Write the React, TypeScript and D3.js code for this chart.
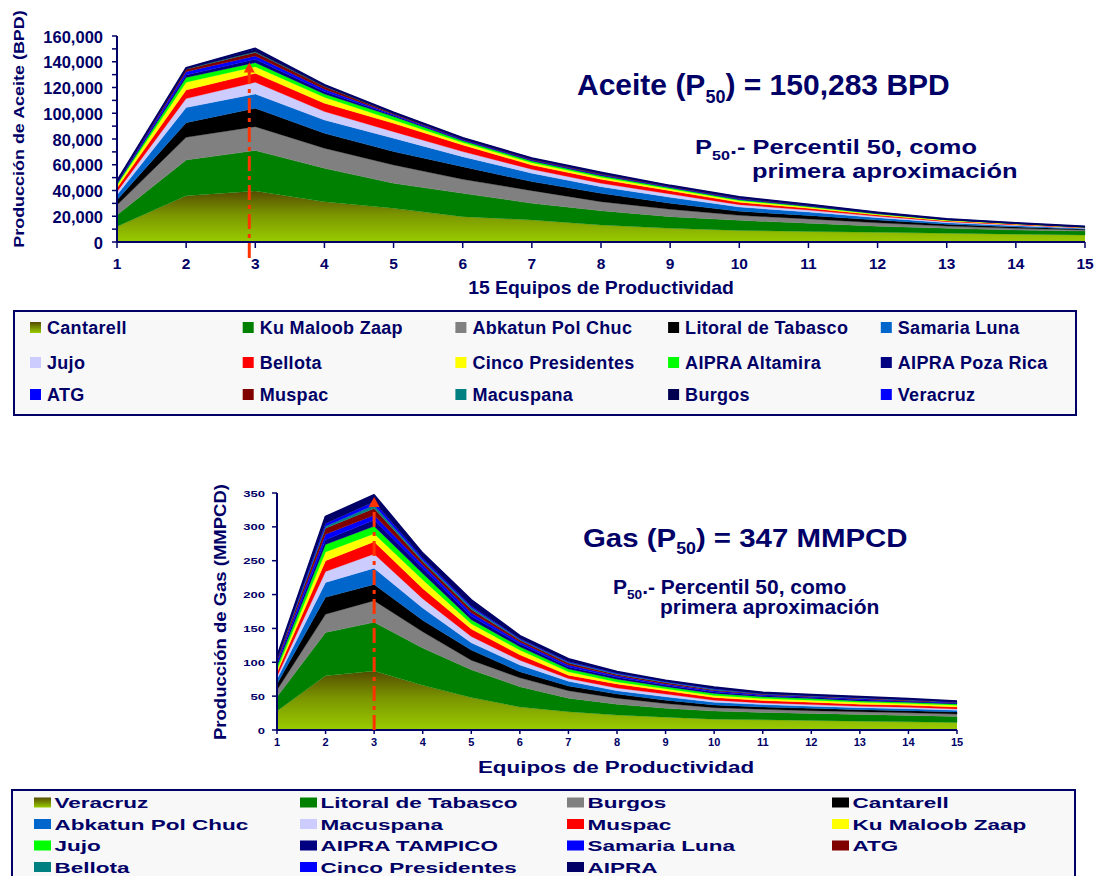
import React from "react";
import * as d3 from "d3";

// ---------- shared categories ----------
const equipos = [1, 2, 3, 4, 5, 6, 7, 8, 9, 10, 11, 12, 13, 14, 15];

// ---------- Oil (BPD) by asset ----------
const oilCantarell = [12000, 36000, 39600, 31300, 26200, 19700, 17100, 13200, 10600, 9000, 8200, 7500, 6800, 6100, 5500];
const oilKuMaloobZaap = [9000, 27700, 31400, 25900, 19400, 18100, 13000, 11100, 9100, 7800, 6400, 4800, 3800, 3200, 3000];
const oilAbkatun = [7700, 17600, 18600, 15600, 14200, 10900, 9800, 7000, 5700, 3900, 3300, 2600, 1800, 1300, 800];
const oilLitoral = [3900, 11400, 14300, 11600, 10400, 9800, 7000, 6500, 4700, 3100, 2700, 2100, 1400, 1100, 700];
const oilSamaria = [3900, 11700, 11100, 10400, 10400, 7800, 6500, 5200, 4600, 3400, 2700, 1900, 1200, 900, 500];
const oilJujo = [2500, 7000, 9100, 6500, 5100, 3900, 3100, 2600, 2600, 1800, 1500, 1100, 800, 600, 400];
const oilBellota = [3000, 6700, 6900, 6500, 6500, 5200, 3300, 3100, 2600, 1800, 1400, 900, 600, 500, 300];
const oilCinco = [2000, 6000, 5200, 4600, 2600, 1800, 1800, 1600, 1300, 1300, 900, 600, 500, 400, 200];
const oilAltamira = [1000, 3600, 3100, 2600, 2600, 1500, 1300, 1200, 1000, 800, 600, 500, 300, 200, 200];
const oilPozaRica = [800, 2100, 2700, 1800, 800, 600, 500, 500, 400, 400, 300, 200, 200, 100, 100];
const oilATG = [600, 2500, 2500, 1900, 800, 500, 500, 500, 400, 400, 300, 200, 100, 100, 100];
const oilMuspac = [400, 1900, 2600, 2000, 800, 500, 500, 500, 400, 400, 300, 200, 100, 100, 50];
const oilMacuspana = [200, 300, 700, 300, 200, 100, 100, 100, 100, 100, 100, 100, 100, 50, 50];
const oilBurgos = [200, 400, 1800, 700, 400, 300, 400, 600, 200, 600, 300, 200, 100, 100, 50];
const oilVeracruz = [200, 300, 683, 300, 200, 100, 100, 200, 100, 200, 100, 100, 100, 50, 50];

const oilNames = [
  "Cantarell", "Ku Maloob Zaap", "Abkatun Pol Chuc", "Litoral de Tabasco", "Samaria Luna",
  "Jujo", "Bellota", "Cinco Presidentes", "AIPRA Altamira", "AIPRA Poza Rica",
  "ATG", "Muspac", "Macuspana", "Burgos", "Veracruz",
];
const oilValues = [
  oilCantarell, oilKuMaloobZaap, oilAbkatun, oilLitoral, oilSamaria,
  oilJujo, oilBellota, oilCinco, oilAltamira, oilPozaRica,
  oilATG, oilMuspac, oilMacuspana, oilBurgos, oilVeracruz,
];
const oilColors = [
  "url(#gradOil)", "#008000", "#808080", "#000000", "#0066CC",
  "#CCCCFF", "#FF0000", "#FFFF00", "#00FF00", "#000080",
  "#0000FF", "#800000", "#008080", "#000050", "#0000FF",
];
const oilTicks = [0, 20000, 40000, 60000, 80000, 100000, 120000, 140000, 160000];
const oilMinorTicks = [10000, 30000, 50000, 70000, 90000, 110000, 130000, 150000];

// ---------- Gas (MMPCD) by asset ----------
const gasVeracruz = [28, 80, 87, 66, 48, 34, 27, 22, 19, 16, 15, 14, 13, 12, 11];
const gasLitoral = [21, 64, 72, 55, 41, 30, 20, 16, 13, 12, 11, 10.5, 10, 9.5, 9];
const gasBurgos = [10, 27, 32, 24, 14, 13, 11, 9, 7, 5, 4.5, 4, 4, 4, 3.5];
const gasCantarell = [9, 25, 24, 17, 15, 9, 7, 6, 5, 4, 3.5, 3.5, 3, 3, 3];
const gasAbkatun = [7, 22, 24, 18, 11, 10, 7, 5, 5, 4, 3.5, 3, 3, 3, 2.5];
const gasMacuspana = [4, 16, 21, 14, 9, 7, 4, 4, 4, 3, 2.5, 2.5, 2, 2, 2];
const gasMuspac = [6, 16, 18, 15, 11, 8, 5, 6, 5, 4, 3.5, 3.5, 3, 3, 3];
const gasKuMaloob = [4, 13, 12, 13, 8, 7, 5, 3, 3, 3, 3, 3, 3, 2.5, 2.5];
const gasJujo = [5, 11, 11, 9, 6, 5, 4, 4, 3, 3, 2.5, 2.5, 2, 2, 2];
const gasAipraTampico = [4, 7, 9, 8, 5, 4, 3, 3, 2, 2, 1.5, 1.5, 1.5, 1, 1];
const gasSamaria = [4, 8, 7, 5, 5, 3, 3, 2, 2, 2, 1.5, 1, 1.5, 1, 1];
const gasATG = [3, 9, 10, 5, 5, 3, 3, 2, 2, 1, 1, 1, 1, 1, 0.5];
const gasBellota = [1, 3, 5, 2, 3, 1, 1, 1, 1, 1, 0.5, 0.5, 0.5, 0.5, 0.5];
const gasCinco = [1, 4, 5, 3, 2, 1, 1, 1, 1, 1, 0.5, 0.5, 0.5, 0.5, 0.5];
const gasAipra = [1, 10, 10, 7, 9, 4, 4, 2, 1, 2, 1.5, 1, 1, 1, 0.5];

const gasNames = [
  "Veracruz", "Litoral de Tabasco", "Burgos", "Cantarell",
  "Abkatun Pol Chuc", "Macuspana", "Muspac", "Ku Maloob Zaap",
  "Jujo", "AIPRA TAMPICO", "Samaria Luna", "ATG",
  "Bellota", "Cinco Presidentes", "AIPRA",
];
const gasValues = [
  gasVeracruz, gasLitoral, gasBurgos, gasCantarell,
  gasAbkatun, gasMacuspana, gasMuspac, gasKuMaloob,
  gasJujo, gasAipraTampico, gasSamaria, gasATG,
  gasBellota, gasCinco, gasAipra,
];
const gasColors = [
  "url(#gradGas)", "#008000", "#808080", "#000000",
  "#0066CC", "#CCCCFF", "#FF0000", "#FFFF00",
  "#00FF00", "#000080", "#0000FF", "#800000",
  "#008080", "#0000FF", "#000066",
];
const gasTicks = [0, 50, 100, 150, 200, 250, 300, 350];

// ---------- style ----------
const FONT = "'Liberation Sans', Arial, Helvetica, sans-serif";
const NAVY = "#000066";
const ARROW = "#FF3300";

type TxtProps = {
  x: number; y: number; size: number; anchor?: string; sx?: number; ls?: number;
  rotate?: number; children?: React.ReactNode; fill?: string;
};
const Txt = ({ x, y, size, anchor = "start", sx = 1, ls = 0, rotate = 0, children, fill = NAVY }: TxtProps) => (
  <text
    transform={`translate(${x},${y})${rotate ? ` rotate(${rotate})` : ""} scale(${sx},1)`}
    fontSize={size}
    fontFamily={FONT}
    fontWeight="bold"
    fill={fill}
    textAnchor={anchor as any}
    letterSpacing={ls}
  >
    {children}
  </text>
);

function buildLayers(names: string[], values: number[][]) {
  const table = equipos.map((e, i) => {
    const row: any = { equipo: e };
    names.forEach((n, k) => (row[n] = values[k][i]));
    return row;
  });
  const stack = d3.stack<any>().keys(names);
  return stack(table);
}

function Areas({ layers, colors, x, y }: { layers: any[]; colors: string[]; x: any; y: any }) {
  const area = d3
    .area<any>()
    .x((d: any) => x(d.data.equipo))
    .y0((d: any) => y(d[0]))
    .y1((d: any) => y(d[1]));
  const top = layers[layers.length - 1];
  const line = d3
    .line<any>()
    .x((d: any) => x(d.data.equipo))
    .y((d: any) => y(d[1]));
  return (
    <g>
      {layers.map((l, i) => (
        <path key={i} d={area(l) || ""} fill={colors[i]} stroke={colors[i].startsWith("url") ? "none" : colors[i]} strokeWidth={0.3} />
      ))}
      <path d={line(top) || ""} fill="none" stroke={NAVY} strokeWidth={2} strokeLinejoin="round" />
    </g>
  );
}

function Arrow({ x, yBottom, yTip, width }: { x: number; yBottom: number; yTip: number; width: number }) {
  return (
    <g>
      <line x1={x} x2={x} y1={yBottom} y2={yTip + 8} stroke={ARROW} strokeWidth={width} strokeDasharray="15,5,4,5" />
      <path d={`M${x},${yTip} L${x - 5.5},${yTip + 10} L${x + 5.5},${yTip + 10} Z`} fill={ARROW} />
    </g>
  );
}

function OilChart() {
  const x = d3.scaleLinear().domain([1, 15]).range([117, 1085]);
  const y = d3.scaleLinear().domain([0, 160000]).range([242, 36]);
  const layers = buildLayers(oilNames, oilValues);
  const fmt = d3.format(",");
  return (
    <g>
      <defs>
        <linearGradient id="gradOil" gradientUnits="userSpaceOnUse" x1={0} x2={0} y1={y(d3.max(oilCantarell) as number)} y2={y(0)}>
          <stop offset="0" stopColor="#544c00" />
          <stop offset="0.45" stopColor="#7a9400" />
          <stop offset="1" stopColor="#99CC00" />
        </linearGradient>
      </defs>
      <Areas layers={layers} colors={oilColors} x={x} y={y} />
      {/* axes */}
      <line x1={x(1)} x2={x(1)} y1={y(160000)} y2={y(0)} stroke={NAVY} strokeWidth={2} />
      <line x1={x(1)} x2={x(15)} y1={y(0)} y2={y(0)} stroke={NAVY} strokeWidth={2} />
      {oilTicks.concat(oilMinorTicks).map((t) => (
        <line key={"yt" + t} x1={x(1) - 5} x2={x(1)} y1={y(t)} y2={y(t)} stroke={NAVY} strokeWidth={1.5} />
      ))}
      {oilTicks.map((t) => (
        <Txt key={"yl" + t} x={x(1) - 14} y={y(t) + 6.5} size={16.5} anchor="end">{fmt(t)}</Txt>
      ))}
      {equipos.map((e) => (
        <g key={"x" + e}>
          <line x1={x(e)} x2={x(e)} y1={y(0)} y2={y(0) + 6} stroke={NAVY} strokeWidth={1.5} />
          <Txt x={x(e)} y={y(0) + 27} size={15.5} anchor="middle">{e}</Txt>
        </g>
      ))}
      <Txt x={601} y={294} size={17.6} anchor="middle" sx={1.1}>15 Equipos de Productividad</Txt>
      <Txt x={23.5} y={129} size={13.8} anchor="middle" rotate={-90} sx={1.3}>Producción de Aceite (BPD)</Txt>
      <Arrow x={x(3) - 6} yBottom={y(0) + 16} yTip={y(139500)} width={3} />
      {/* annotations */}
      <text x={577} y={95} fontSize={30} fontFamily={FONT} fontWeight="bold" fill={NAVY}>
        Aceite (P<tspan fontSize={18} dy={8}>50</tspan><tspan dy={-8}>) = 150,283 BPD</tspan>
      </text>
      <text transform="translate(695,154) scale(1.24,1)" fontSize={20.5} fontFamily={FONT} fontWeight="bold" fill={NAVY}>
        P<tspan fontSize={13} dy={6}>50</tspan><tspan dy={-6}>.- Percentil 50, como</tspan>
      </text>
      <Txt x={752} y={178} size={20.5} sx={1.24}>primera aproximación</Txt>
    </g>
  );
}

function OilLegend() {
  const cols = 5;
  return (
    <g>
      <defs>
        <linearGradient id="gradOilSw" x1={0} x2={0} y1={0} y2={1}>
          <stop offset="0" stopColor="#544c00" />
          <stop offset="1" stopColor="#99CC00" />
        </linearGradient>
      </defs>
      <rect x={14} y={311} width={1062} height={104} fill="#F8F8F8" stroke={NAVY} strokeWidth={2} />
      {oilNames.map((n, i) => {
        const c = i % cols;
        const r = Math.floor(i / cols);
        const sx = 30 + c * 212.7;
        const by = [334, 369, 401][r];
        const fill = oilColors[i].startsWith("url") ? "url(#gradOilSw)" : oilColors[i];
        return (
          <g key={n}>
            <rect x={sx} y={by - 12} width={11} height={11} fill={fill} />
            <Txt x={sx + 17} y={by} size={18} ls={0.3}>{n}</Txt>
          </g>
        );
      })}
    </g>
  );
}

function GasChart() {
  const x = d3.scaleLinear().domain([1, 15]).range([277, 957]);
  const y = d3.scaleLinear().domain([0, 350]).range([730, 493]);
  const layers = buildLayers(gasNames, gasValues);
  return (
    <g>
      <defs>
        <linearGradient id="gradGas" gradientUnits="userSpaceOnUse" x1={0} x2={0} y1={y(d3.max(gasVeracruz) as number)} y2={y(0)}>
          <stop offset="0" stopColor="#544c00" />
          <stop offset="0.45" stopColor="#7a9400" />
          <stop offset="1" stopColor="#99CC00" />
        </linearGradient>
      </defs>
      <Areas layers={layers} colors={gasColors} x={x} y={y} />
      <line x1={x(1)} x2={x(1)} y1={y(350)} y2={y(0)} stroke={NAVY} strokeWidth={2} />
      <line x1={x(1)} x2={x(15)} y1={y(0)} y2={y(0)} stroke={NAVY} strokeWidth={2} />
      {gasTicks.map((t) => (
        <g key={"gy" + t}>
          <line x1={x(1) - 5} x2={x(1)} y1={y(t)} y2={y(t)} stroke={NAVY} strokeWidth={1.5} />
          <Txt x={x(1) - 12} y={y(t) + 3.5} size={9} anchor="end" sx={1.45}>{t}</Txt>
        </g>
      ))}
      {equipos.map((e) => (
        <g key={"gx" + e}>
          <line x1={x(e)} x2={x(e)} y1={y(0)} y2={y(0) + 4} stroke={NAVY} strokeWidth={1.5} />
          <Txt x={x(e)} y={y(0) + 15.5} size={10} anchor="middle" sx={1.1}>{e}</Txt>
        </g>
      ))}
      <Txt x={616} y={773} size={16} anchor="middle" sx={1.4}>Equipos de Productividad</Txt>
      <Txt x={226} y={612} size={17.3} anchor="middle" rotate={-90} sx={1.07}>Producción de Gas (MMPCD)</Txt>
      <Arrow x={x(3)} yBottom={y(0)} yTip={y(344)} width={3} />
      <text transform="translate(583,547) scale(1.11,1)" fontSize={26.5} fontFamily={FONT} fontWeight="bold" fill={NAVY}>
        Gas (P<tspan fontSize={16} dy={7}>50</tspan><tspan dy={-7}>) = 347 MMPCD</tspan>
      </text>
      <text transform="translate(613,594) scale(1.05,1)" fontSize={20} fontFamily={FONT} fontWeight="bold" fill={NAVY}>
        P<tspan fontSize={13} dy={5}>50</tspan><tspan dy={-5}>.- Percentil 50, como</tspan>
      </text>
      <Txt x={660} y={614} size={20} sx={1.05}>primera aproximación</Txt>
    </g>
  );
}

function GasLegend() {
  const cols = 4;
  const colX = [34, 300, 567, 832];
  const rowY = [808, 829.5, 851, 872.5];
  return (
    <g>
      <defs>
        <linearGradient id="gradGasSw" x1={0} x2={0} y1={0} y2={1}>
          <stop offset="0" stopColor="#544c00" />
          <stop offset="1" stopColor="#99CC00" />
        </linearGradient>
      </defs>
      <rect x={12} y={790} width={1063} height={110} fill="#F8F8F8" stroke={NAVY} strokeWidth={2} />
      {gasNames.map((n, i) => {
        const c = i % cols;
        const r = Math.floor(i / cols);
        const fill = gasColors[i].startsWith("url") ? "url(#gradGasSw)" : gasColors[i];
        return (
          <g key={n + i}>
            <rect x={colX[c]} y={rowY[r] - 10.5} width={17} height={10} fill={fill} />
            <Txt x={colX[c] + 20.5} y={rowY[r]} size={15} sx={1.5}>{n}</Txt>
          </g>
        );
      })}
    </g>
  );
}

export default function App() {
  return (
    <svg width={1099} height={876} style={{ position: "absolute", left: 0, top: 0, background: "#ffffff" }}>
      <rect x={0} y={0} width={1099} height={876} fill="#ffffff" />
      <OilChart />
      <OilLegend />
      <GasChart />
      <GasLegend />
    </svg>
  );
}
